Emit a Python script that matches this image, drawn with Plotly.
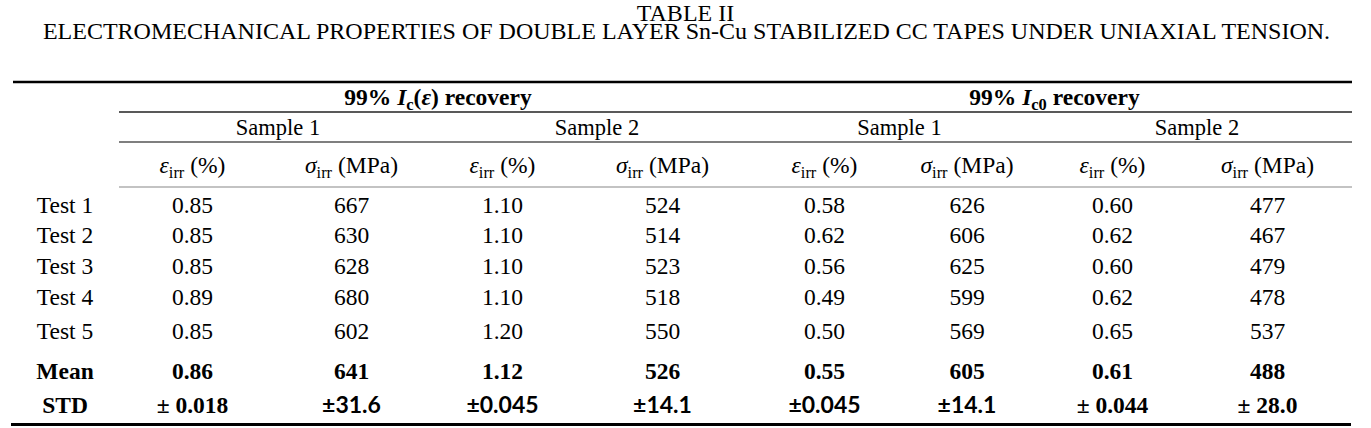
import plotly.graph_objects as go

# ---------------- data ----------------
title_line1 = "TABLE II"
title_line2 = "ELECTROMECHANICAL PROPERTIES OF DOUBLE LAYER Sn-Cu STABILIZED CC TAPES UNDER UNIAXIAL TENSION."

group_labels = ["99% <i>I</i><sub>c</sub>(<i>ε</i>) recovery", "99% <i>I</i><sub>c0</sub> recovery"]
sample_labels = ["Sample 1", "Sample 2", "Sample 1", "Sample 2"]
column_labels = ["<i>ε</i><sub>irr</sub> (%)", "<i>σ</i><sub>irr</sub> (MPa)"] * 4
row_labels = ["Test 1", "Test 2", "Test 3", "Test 4", "Test 5"]

ic_s1_eps = [0.85, 0.85, 0.85, 0.89, 0.85]
ic_s1_sig = [667, 630, 628, 680, 602]
ic_s2_eps = [1.10, 1.10, 1.10, 1.10, 1.20]
ic_s2_sig = [524, 514, 523, 518, 550]
ic0_s1_eps = [0.58, 0.62, 0.56, 0.49, 0.50]
ic0_s1_sig = [626, 606, 625, 599, 569]
ic0_s2_eps = [0.60, 0.62, 0.60, 0.62, 0.65]
ic0_s2_sig = [477, 467, 479, 478, 537]

mean_values = [0.86, 641, 1.12, 526, 0.55, 605, 0.61, 488]
std_values = ["± 0.018", "±31.6", "±0.045", "±14.1", "±0.045", "±14.1", "± 0.044", "± 28.0"]
std_sans = [False, True, True, True, True, True, False, False]

# ---------------- layout constants (pixels) ----------------
W, H = 1371, 428
SERIF = "Liberation Serif, Times New Roman, serif"
SANS = "Lato, Liberation Sans, sans-serif"
FS = 23.5
FS_TITLE = 24

col_edges = [119, 266, 437, 568, 757, 892, 1042, 1183, 1352]
col_x = [(col_edges[i] + col_edges[i + 1]) / 2 for i in range(8)]
label_x = 65
y_title1, y_title2 = 15, 33
y_group, y_sample, y_colhead = 99, 129, 167
y_rows = [207, 237, 268, 299, 333]
y_mean, y_std = 373, 407

columns = [ic_s1_eps, ic_s1_sig, ic_s2_eps, ic_s2_sig,
           ic0_s1_eps, ic0_s1_sig, ic0_s2_eps, ic0_s2_sig]


def fmt(v, ci):
    return f"{v:.2f}" if ci % 2 == 0 else f"{v:d}"


fig = go.Figure()


def add_text(xs, ys, texts, family=SERIF, size=FS, color="black"):
    fig.add_trace(go.Scatter(
        x=xs, y=ys, text=texts, mode="text", textposition="middle center",
        textfont=dict(family=family, size=size, color=color),
        hoverinfo="skip", showlegend=False, cliponaxis=False))


# title
add_text([W / 2], [y_title1], [title_line1], size=FS_TITLE)
add_text([W / 2 + 1], [y_title2], [title_line2], size=FS_TITLE)

# group headers
add_text([(col_edges[0] + col_edges[4]) / 2, (col_edges[4] + col_edges[8]) / 2],
         [y_group, y_group], [f"<b>{g}</b>" for g in group_labels])
# sample headers
add_text([(col_edges[2 * i] + col_edges[2 * i + 2]) / 2 for i in range(4)],
         [y_sample] * 4, sample_labels, size=22.5)
# column headers
add_text(col_x, [y_colhead] * 8, column_labels)

# row labels
add_text([label_x] * 5, y_rows, row_labels)
add_text([label_x, label_x], [y_mean, y_std], ["<b>Mean</b>", "<b>STD</b>"])

# body values
for ci, col in enumerate(columns):
    add_text([col_x[ci]] * len(col), y_rows, [fmt(v, ci) for v in col])

# mean row
add_text(col_x, [y_mean] * 8, [f"<b>{fmt(v, ci)}</b>" for ci, v in enumerate(mean_values)])

# std row
sx = [col_x[i] for i in range(8) if std_sans[i]]
st = [f"<b>{std_values[i]}</b>" for i in range(8) if std_sans[i]]
add_text(sx, [y_std] * len(sx), st, family=SANS, size=23)
rx = [col_x[i] for i in range(8) if not std_sans[i]]
rt = [f"<b>{std_values[i]}</b>" for i in range(8) if not std_sans[i]]
add_text(rx, [y_std] * len(rx), rt)

# rules
rules = [
    (13, 1352, 82, 2.5, "black"),
    (119, 1352, 112, 1.5, "#222222"),
    (119, 1352, 142, 1.5, "#555555"),
    (119, 1352, 187, 1.2, "#888888"),
    (11, 1351, 424.5, 3, "black"),
]
for x0, x1, y, w, c in rules:
    fig.add_shape(type="line", xref="x", yref="y", x0=x0, x1=x1, y0=y, y1=y,
                  line=dict(color=c, width=w))

fig.update_layout(
    width=W, height=H, margin=dict(l=0, r=0, t=0, b=0),
    paper_bgcolor="white", plot_bgcolor="white",
    xaxis=dict(range=[0, W], visible=False, fixedrange=True),
    yaxis=dict(range=[H, 0], visible=False, fixedrange=True),
)

fig.write_html(
    "out.html",
    config={"displayModeBar": False, "staticPlot": True},
    post_script="document.body.style.margin='0px';document.body.style.overflow='hidden';",
)
